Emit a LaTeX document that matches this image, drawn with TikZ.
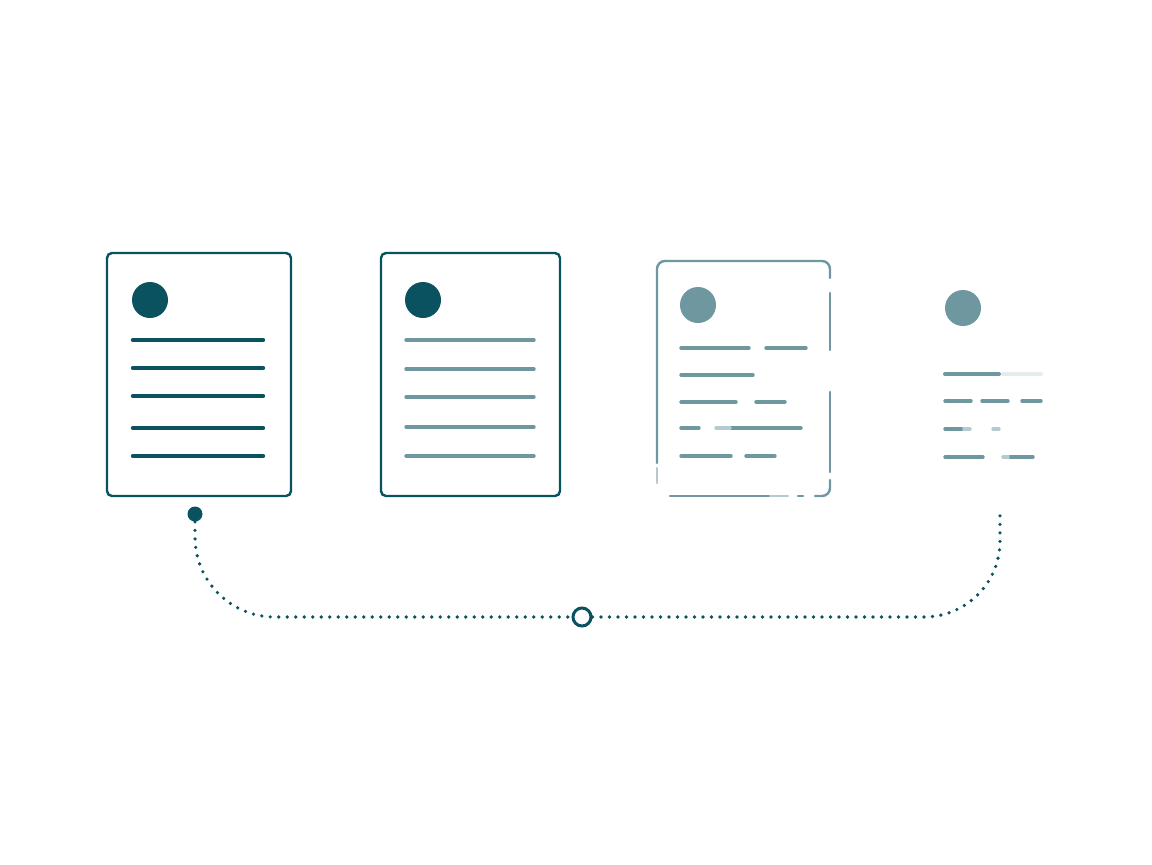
\documentclass[tikz,border=0pt]{standalone}
\usetikzlibrary{positioning}
\definecolor{tealdark}{HTML}{0B5260}
\definecolor{teallight}{HTML}{6E97A0}
\definecolor{tealfade}{HTML}{B4CACF}
\definecolor{tealfaint}{HTML}{E4ECEE}
\begin{document}
\begin{tikzpicture}[x=0.5pt, y=-0.5pt,
    page/.style={draw=tealdark, line width=1.2pt, rounded corners=2.5pt, minimum width=#1, minimum height=121.5pt, inner sep=0pt},
    avatar/.style={circle, fill=#1, minimum size=18pt, inner sep=0pt},
    bar/.style={line width=2.2pt, line cap=round, tealdark},
    lightbar/.style={line width=1.7pt, line cap=round, teallight},
    broken/.style={line width=1.2pt, line cap=round, teallight, rounded corners=4pt},
    dotline/.style={tealdark, line width=1.8pt, line cap=round, dash pattern=on 0pt off 4.25pt},
]
    \useasboundingbox[fill=white] (0,0) rectangle (1152,864);

    % first page
    \node[page=92pt] (doc1) at (199,374.5) {};
    \node[avatar=tealdark] (face1) at (150,300) {};
    \foreach \y in {340,368,396,428,456}
        \draw[bar] (133,\y) -- (263,\y);

    % second page
    \node[page=89.5pt] (doc2) at (470.5,374.5) {};
    \node[avatar=tealdark] (face2) at (423,300) {};
    \foreach \y in {340,369,397,427,456}
        \draw[lightbar] (406,\y) -- (534,\y);

    % third page, frame breaking up
    \draw[broken] (657,463) -- (657,261) -- (830,261) -- (830,278);
    \draw[broken] (830,293) -- (830,350);
    \draw[broken] (830,392) -- (830,472);
    \draw[broken] (830,480) -- (830,496) -- (815,496);
    \draw[broken] (798,496) -- (803,496);
    \draw[broken] (670,496) -- (770,496);
    \draw[broken, tealfade] (770,496) -- (788,496);
    \draw[broken, tealfade] (657,468) -- (657,483);
    \node[avatar=teallight] (face3) at (698,305) {};
    \draw[lightbar] (681,348) -- (749,348) (766,348) -- (806,348);
    \draw[lightbar] (681,375) -- (753,375);
    \draw[lightbar] (681,402) -- (736,402) (756,402) -- (785,402);
    \draw[lightbar] (681,428) -- (699,428) (730,428) -- (801,428);
    \draw[lightbar, tealfade] (716,428) -- (730,428);
    \draw[lightbar] (681,456) -- (731,456) (746,456) -- (775,456);

    % fourth page, only the content left
    \node[avatar=teallight] (face4) at (963,308) {};
    \draw[lightbar, line width=2pt] (945,374) -- (999,374);
    \draw[lightbar, line width=2pt, tealfaint] (1003,374) -- (1041,374);
    \draw[lightbar] (945,401) -- (971,401) (982,401) -- (1008,401) (1022,401) -- (1041,401);
    \draw[lightbar] (945,429) -- (962,429);
    \draw[lightbar, tealfade] (964,429) -- (970,429) (993,429) -- (999,429);
    \draw[lightbar] (945,457) -- (983,457) (1010,457) -- (1033,457);
    \draw[lightbar, tealfade] (1003,457) -- (1008,457);

    % dotted link
    \node[avatar=tealdark, minimum size=7.5pt] (start) at (195,514) {};
    \node[circle, draw=tealdark, line width=1.5pt, fill=white, minimum size=9pt, inner sep=0pt] (hub) at (582,617) {};
    \coordinate (end) at (1000,512);
    \draw[dotline, rounded corners=40pt] (start) |- (hub);
    \draw[dotline, rounded corners=38pt] (hub) -| (end);
\end{tikzpicture}
\end{document}
